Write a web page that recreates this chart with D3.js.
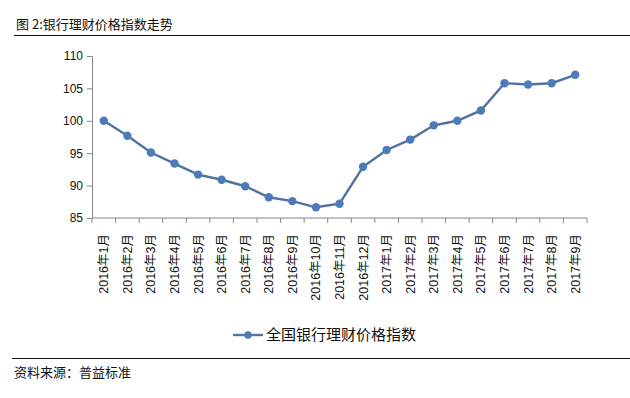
<!DOCTYPE html>
<html>
<head>
<meta charset="utf-8">
<script src="https://cdn.jsdelivr.net/npm/d3@7"></script>
<style>
  body { margin: 0; background: #fff; }
  svg { display: block; font-family: "Liberation Sans", Arial, "Noto Sans CJK SC", sans-serif; }
</style>
</head>
<body>
<div id="chart"></div>
<script>
// 图 2: 银行理财价格指数走势
const months = [
  "2016年1月", "2016年2月", "2016年3月", "2016年4月", "2016年5月", "2016年6月",
  "2016年7月", "2016年8月", "2016年9月", "2016年10月", "2016年11月", "2016年12月",
  "2017年1月", "2017年2月", "2017年3月", "2017年4月", "2017年5月", "2017年6月",
  "2017年7月", "2017年8月", "2017年9月",
];
const indexValues = [
  100.0, 97.7, 95.1, 93.4, 91.7, 90.9, 89.9, 88.2, 87.6, 86.65, 87.2, 92.9,
  95.5, 97.1, 99.3, 100.0, 101.6, 105.8, 105.6, 105.8, 107.1,
];
const yTicks = [85, 90, 95, 100, 105, 110];
const seriesName = "全国银行理财价格指数";

const W = 630, H = 398;
const m = { left: 92, right: 43, top: 56, bottom: 180 };
const cjk = '"Noto Sans CJK SC", sans-serif';
const lineColor = "#51729f";
const dotColor = "#4d7ab8";
const axisColor = "#868686";

const svg = d3.select("#chart").append("svg").attr("width", W).attr("height", H);

// 标题和分隔线
svg.append("text").attr("x", 16).attr("y", 29).attr("font-family", cjk).attr("font-size", 13)
  .attr("fill", "#111").text("图 2:银行理财价格指数走势");
svg.append("line").attr("x1", 14).attr("x2", W).attr("y1", 35.5).attr("y2", 35.5)
  .attr("stroke", "#111").attr("stroke-width", 1);

const x = d3.scaleBand().domain(months).range([m.left, W - m.right]);
const y = d3.scaleLinear().domain([85, 110]).range([H - m.bottom, m.top]);

// y 轴
const yAxis = svg.append("g").attr("transform", `translate(${m.left},0)`)
  .call(d3.axisLeft(y).tickValues(yTicks).tickSize(5).tickPadding(4));
yAxis.select(".domain").attr("stroke", axisColor);
yAxis.selectAll(".tick line").attr("stroke", axisColor);
yAxis.selectAll("text").attr("font-size", 12).attr("fill", "#111");

// x 轴：刻度在类别之间
const xAxis = svg.append("g").attr("transform", `translate(0,${y(85)})`);
xAxis.append("line").attr("x1", m.left).attr("x2", W - m.right).attr("stroke", axisColor);
const bounds = months.map((d) => x(d)).concat([x(months[months.length - 1]) + x.bandwidth()]);
xAxis.selectAll("line.tk").data(bounds).join("line").attr("class", "tk")
  .attr("x1", (d) => d).attr("x2", (d) => d).attr("y1", 0).attr("y2", 5).attr("stroke", axisColor);
xAxis.selectAll("text").data(months).join("text")
  .attr("transform", (d) => `translate(${x(d) + x.bandwidth() / 2 + 4.5},${16}) rotate(-90)`)
  .attr("text-anchor", "end").attr("font-size", 12.5).attr("fill", "#111")
  .text((d) => d);

// 折线与标记
const cx = (i) => x(months[i]) + x.bandwidth() / 2;
const line = d3.line().x((d, i) => cx(i)).y((d) => y(d));
svg.append("path").datum(indexValues).attr("d", line).attr("fill", "none")
  .attr("stroke", lineColor).attr("stroke-width", 2.4);
svg.selectAll("circle.pt").data(indexValues).join("circle").attr("class", "pt")
  .attr("cx", (d, i) => cx(i)).attr("cy", (d) => y(d)).attr("r", 4.2).attr("fill", dotColor);

// 图例
const lg = svg.append("g").attr("transform", "translate(233,335)");
lg.append("line").attr("x1", 0).attr("x2", 30).attr("stroke", lineColor).attr("stroke-width", 2.4);
lg.append("circle").attr("cx", 15).attr("r", 3.8).attr("fill", dotColor);
lg.append("text").attr("x", 33).attr("y", 5).attr("font-family", cjk).attr("font-size", 15)
  .attr("fill", "#111").text(seriesName);

// 资料来源
svg.append("line").attr("x1", 12).attr("x2", W).attr("y1", 358.5).attr("y2", 358.5)
  .attr("stroke", "#111").attr("stroke-width", 1);
svg.append("text").attr("x", 14).attr("y", 377).attr("font-family", cjk).attr("font-size", 13)
  .attr("fill", "#111").text("资料来源：普益标准");
</script>
</body>
</html>
